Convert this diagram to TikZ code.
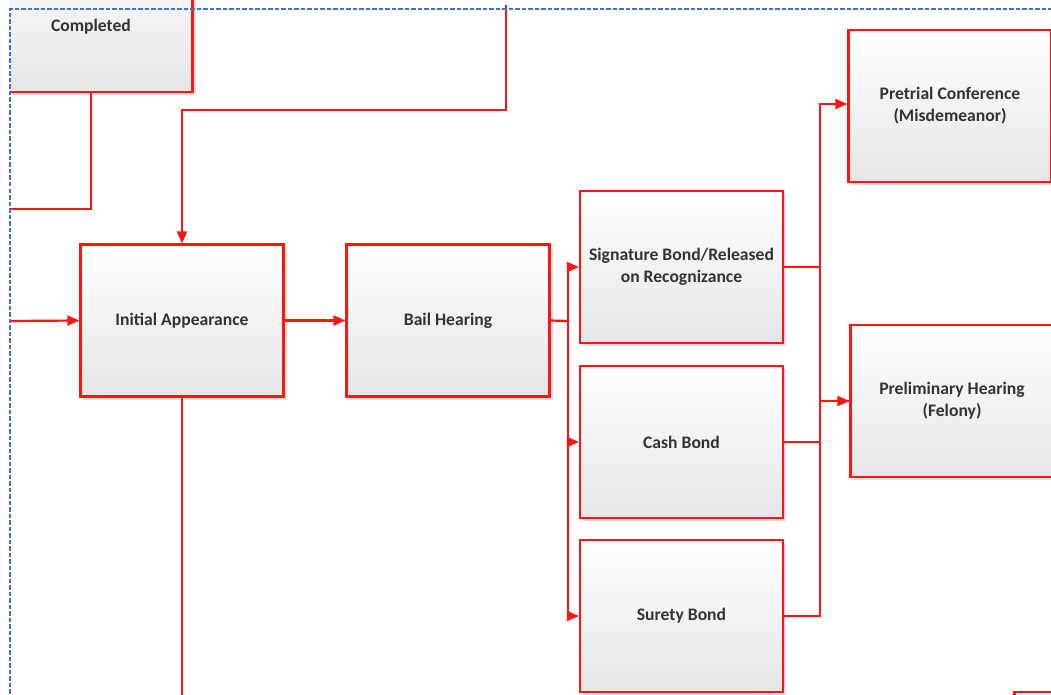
\documentclass[tikz,border=0pt]{standalone}
\usepackage{fontspec}
\setmainfont{Carlito}
\usetikzlibrary{arrows.meta,shadows}
\definecolor{framec}{RGB}{68,114,196}
\definecolor{linkred}{RGB}{255,20,20}
\begin{document}
\begin{tikzpicture}[x=1pt,y=-1pt,
 lbl/.style={font=\bfseries\fontsize{17.6}{22}\selectfont, text=black!80, align=center},
 box/.style={lbl, draw=linkred, line width=2.2pt, top color=white, bottom color=black!10, minimum width=203pt, minimum height=152pt, inner sep=0pt, drop shadow={shadow xshift=3pt, shadow yshift=-3pt, fill=black!20, opacity=0.6}},
 link/.style={draw=linkred, line width=2.2pt},
 arr/.style={link, -{Triangle[length=12pt,width=10pt]}},
 frame/.style={draw=framec, line width=1.3pt, dash pattern=on 4.5pt off 2pt}]
\useasboundingbox (0,0) rectangle (1051,695);
\fill[white] (0,0) rectangle (1051,695);
\begin{scope}
\clip (10,0) rectangle (1051,695);
% nodes
\node[box] (comp) at (91,16) {};
\node[lbl] (compt) at (91,27) {Completed};
\node[box] (ia) at (182,320.5) {Initial Appearance};
\node[box] (bail) at (448,320.5) {Bail Hearing};
\node[box] (sig) at (681.5,267) {Signature Bond/Released\\on Recognizance};
\node[box] (cash) at (681.5,442) {Cash Bond};
\node[box] (sur) at (681.5,616) {Surety Bond};
\node[box] (pre) at (950,106) {Pretrial Conference\\(Misdemeanor)};
\node[box] (prel) at (952,401) {Preliminary Hearing\\(Felony)};
\node[box] (next) at (1116,768) {};
% free ends
\coordinate (inL) at (10,321);
\coordinate (outL) at (10,209);
\coordinate (topIn) at (506,5);
\coordinate (iaOut) at (182,700);
\coordinate (bj) at (568,321);
% connectors
\draw[link] (comp.south) |- (outL);
\draw[arr] (topIn) |- (182,110) -- (ia.north);
\draw[arr] (inL) -- (ia.west);
\draw[link] (ia.south) -- (iaOut);
\draw[arr] (ia.east) -- (bail.west);
\draw[link] (bail.east) -- (bj);
\draw[arr] (bj) |- (sig.west);
\draw[arr] (bj) |- (cash.west);
\draw[arr] (bj) |- (sur.west);
\draw[arr] (sig.east) -- ++(36,0) |- ([yshift=2pt]pre.west);
\draw[arr] (sur.east) -- ++(36,0) |- (prel.west);
\draw[link] (sig.east) -- ++(36,0) |- (prel.west);
\draw[link] (cash.east) -- ++(37,0);
\end{scope}
% page frame
\draw[frame] (10,700) -- (10,9) -- (1060,9);
\end{tikzpicture}
\end{document}
